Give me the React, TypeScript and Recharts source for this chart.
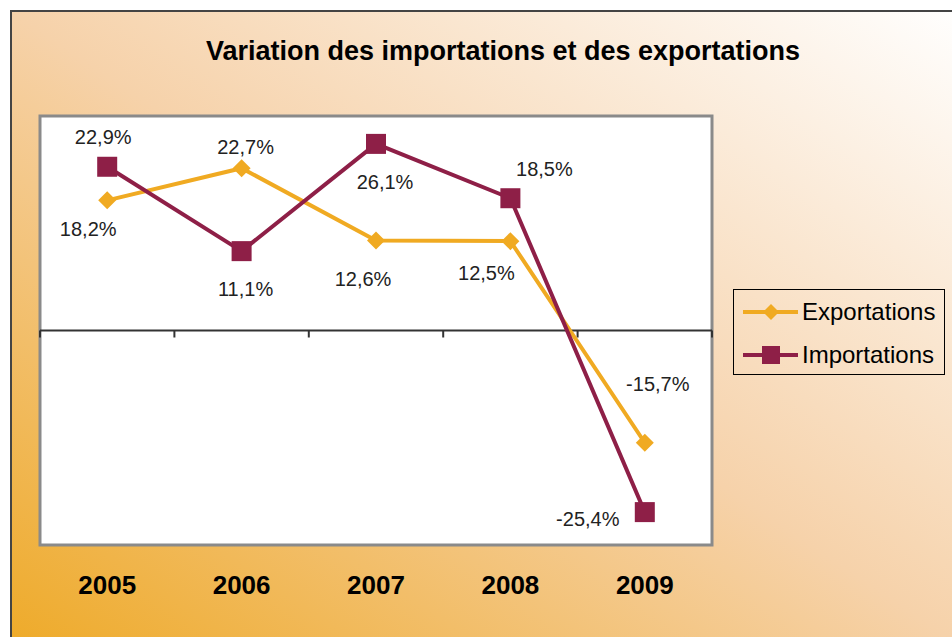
import React from 'react';
import { LineChart, Line, XAxis, YAxis, ReferenceLine, ReferenceArea, LabelList, Legend } from 'recharts';

const years = ['2005', '2006', '2007', '2008', '2009'];
const exportations = [18.2, 22.7, 12.6, 12.5, -15.7];
const importations = [22.9, 11.1, 26.1, 18.5, -25.4];
const exportLabelOffsets = [[-19, 29], [4, -21], [-13, 39], [-24, 32], [13, -59]];
const importLabelOffsets = [[-4, -30], [4, 38], [9, 38], [34, -29], [-57, 7]];

const data = years.map((y, i) => ({ year: y, Exportations: exportations[i], Importations: importations[i] }));

const ORANGE = '#F0AA22';
const MAROON = '#8E1F47';
const FONT = '"Liberation Sans", Arial, sans-serif';

const fmt = (v: number) => v.toFixed(1).replace('.', ',') + '%';

const Diamond = (props: any) => {
  const { cx, cy } = props;
  if (cx == null || cy == null) return null;
  const r = 9;
  return <polygon key={`d-${props.index}`} points={`${cx},${cy - r} ${cx + r},${cy} ${cx},${cy + r} ${cx - r},${cy}`} fill={ORANGE} />;
};

const Square = (props: any) => {
  const { cx, cy } = props;
  if (cx == null || cy == null) return null;
  const s = 20;
  return <rect key={`s-${props.index}`} x={cx - s / 2} y={cy - s / 2} width={s} height={s} fill={MAROON} />;
};

const makeLabel = (offsets: number[][]) => (props: any) => {
  const { x, y, value, index } = props;
  const o = offsets[index] || [0, 0];
  return (
    <text x={x + o[0]} y={y + o[1]} textAnchor="middle" dominantBaseline="central" fill="#222" fontSize={20} fontFamily={FONT}>
      {fmt(Number(value))}
    </text>
  );
};

const YearTick = (props: any) => {
  const { x, y, payload } = props;
  return (
    <text x={x} y={y} dy={41} textAnchor="middle" fill="#000" fontSize={26} fontWeight="bold" fontFamily={FONT}>
      {payload.value}
    </text>
  );
};

const ZeroLine = (props: any) => {
  const { x1, x2, y1 } = props;
  if (x1 == null) return null;
  const n = years.length;
  const step = (x2 - x1) / n;
  const ticks = [];
  for (let i = 0; i <= n; i++) {
    ticks.push(<line key={i} x1={x1 + i * step} x2={x1 + i * step} y1={y1} y2={y1 + 7} stroke="#333" strokeWidth={2} />);
  }
  return (
    <g>
      <line x1={x1} x2={x2} y1={y1} y2={y1} stroke="#333" strokeWidth={2} />
      {ticks}
    </g>
  );
};

const LegendContent = (props: any) => {
  const items = [
    { name: 'Exportations', color: ORANGE, marker: 'diamond' },
    { name: 'Importations', color: MAROON, marker: 'square' },
  ];
  return (
    <div style={{ width: 212, height: 86, border: '1px solid #000', boxSizing: 'border-box', fontFamily: FONT, fontSize: 24, color: '#000', paddingTop: 0 }}>
      {items.map((it) => (
        <div key={it.name} style={{ display: 'flex', alignItems: 'center', height: 43 }}>
          <svg width={68} height={20} style={{ marginLeft: 6 }}>
            <line x1={3} x2={58} y1={10} y2={10} stroke={it.color} strokeWidth={4} />
            {it.marker === 'diamond' ? (
              <polygon points="31,2 39,10 31,18 23,10" fill={it.color} />
            ) : (
              <rect x={22} y={1} width={18} height={18} fill={it.color} />
            )}
          </svg>
          <span style={{ marginLeft: -6 }}>{it.name}</span>
        </div>
      ))}
    </div>
  );
};

export default function App() {
  return (
    <div style={{ position: 'absolute', left: 0, top: 0, width: 952, height: 637, overflow: 'hidden', background: '#fff' }}>
      <div
        style={{
          position: 'absolute',
          left: 10,
          top: 10,
          width: 960,
          height: 640,
          border: '2px solid #444',
          background: 'linear-gradient(to top right, #EEAA28 0%, #F6D2AA 50%, #FFFFFF 100%)',
        }}
      />
      <div
        style={{
          position: 'absolute',
          left: 203,
          top: 36,
          width: 600,
          textAlign: 'center',
          fontFamily: FONT,
          fontWeight: 'bold',
          fontSize: 27,
          color: '#000',
        }}
      >
        Variation des importations et des exportations
      </div>
      <div style={{ position: 'absolute', left: 0, top: 0 }}>
        <LineChart width={952} height={637} data={data} margin={{ top: 116, right: 240, bottom: 32, left: 40 }}>
          <XAxis dataKey="year" scale="band" axisLine={false} tickLine={false} tick={<YearTick />} height={60} interval={0} />
          <YAxis hide domain={[-30, 30]} />
          <ReferenceArea y1={-30} y2={30} fill="#FFFFFF" fillOpacity={1} stroke="#8a8a8a" strokeWidth={3} ifOverflow="visible" />
          <ReferenceLine y={0} shape={<ZeroLine />} />
          <Legend
            layout="horizontal"
            verticalAlign="middle"
            align="center"
            content={<LegendContent />}
            wrapperStyle={{ position: 'absolute', left: 733, top: 289, width: 212, height: 86 }}
          />
          <Line dataKey="Exportations" stroke={ORANGE} strokeWidth={4} dot={Diamond} activeDot={false} isAnimationActive={false}>
            <LabelList dataKey="Exportations" content={makeLabel(exportLabelOffsets)} />
          </Line>
          <Line dataKey="Importations" stroke={MAROON} strokeWidth={4} dot={Square} activeDot={false} isAnimationActive={false}>
            <LabelList dataKey="Importations" content={makeLabel(importLabelOffsets)} />
          </Line>
        </LineChart>
      </div>
    </div>
  );
}
